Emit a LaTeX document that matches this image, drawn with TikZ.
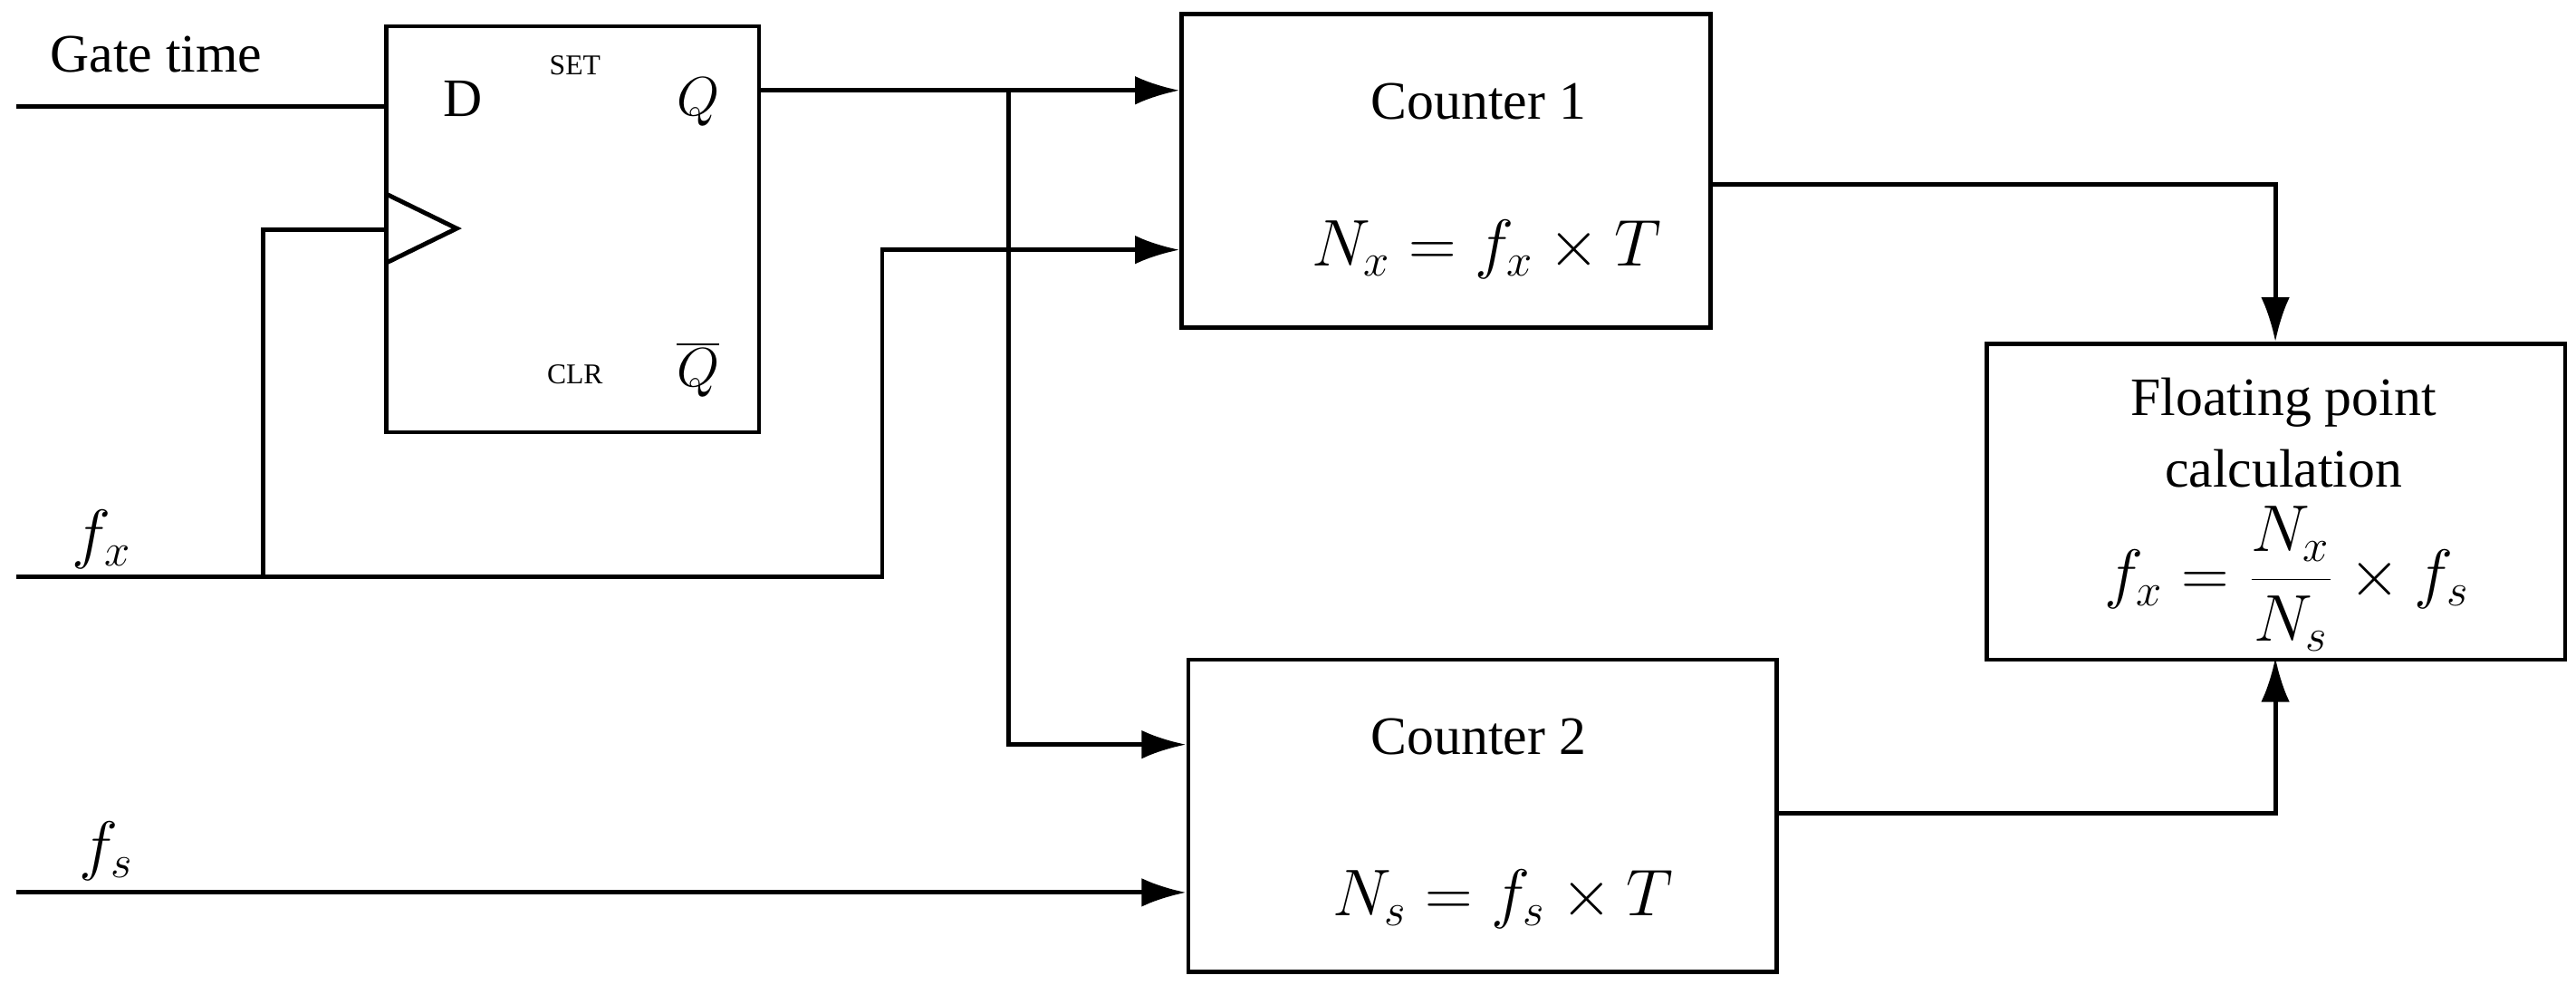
\documentclass[tikz,border=0pt]{standalone}
\usepackage{fontspec}
\setmainfont{Liberation Serif}
\usetikzlibrary{arrows.meta}
\begin{document}
\begin{tikzpicture}[x=0.01814cm,y=-0.01814cm,
  box/.style={draw,line width=1.4pt},
  wire/.style={line width=1.4pt},
  arr/.style={wire,-{Latex[length=14pt,width=9pt]}},
  lbl/.style={font=\fontsize{17}{20}\selectfont},
  eq/.style={font=\fontsize{22}{26}\selectfont},
  small/.style={font=\fontsize{9}{11}\selectfont}]
\useasboundingbox (0,0) rectangle (1568,599);
% flip-flop
\draw[box] (235,16) rectangle (462,263);
\node[lbl] (D) at (282,60) {D};
\node[small] (set) at (350,40) {SET};
\node[lbl] (Q) at (425,62) {$Q$};
\node[small] (clr) at (350,228) {CLR};
\node[lbl] (Qb) at (425,225) {$\overline{Q}$};
\draw[wire] (235,118) -- (278,139) -- (235,160);
% boxes
\node[box,minimum width=322*0.01814cm,minimum height=191*0.01814cm,anchor=north west] (c1) at (718,7) {};
\node[box,minimum width=358*0.01814cm,minimum height=190*0.01814cm,anchor=north west] (c2) at (722,400) {};
\node[box,minimum width=352*0.01814cm,minimum height=192*0.01814cm,anchor=north west] (fp) at (1208,208) {};
\node[lbl] at (900,62) {Counter 1};
\node[eq] at (905,152) {$N_x = f_x \times T$};
\node[lbl] at (900,448) {Counter 2};
\node[eq] at (915,547) {$N_s = f_s \times T$};
\node[lbl] at (1390,245) {Floating point};
\node[lbl] at (1390,285) {calculation};
\node[eq] at (1392,352) {$f_x = \displaystyle\frac{N_x}{N_s}\times f_s$};
% inputs
\node[lbl] (gt) at (95,33) {Gate time};
\node[eq] (fx) at (62,328) {$f_x$};
\node[eq] (fs) at (65,518) {$f_s$};
\coordinate (gin) at (10,65);
\coordinate (fxin) at (10,351);
\coordinate (fsin) at (10,543);
\draw[wire] (gin) -- (235,65);
\draw[arr] (fxin) -- (537,351) -- (537,152) -- (718,152);
\draw[wire] (160,351) -- (160,140) -- (235,140);
\draw[arr] (462,55) -- (718,55);
\draw[arr] (614,55) -- (614,453) -- (722,453);
\draw[arr] (fsin) -- (722,543);
\draw[arr] (1040,112) -- (1385,112) -- (1385,208);
\draw[arr] (1080,495) -- (1385,495) -- (1385,400);
\end{tikzpicture}
\end{document}
